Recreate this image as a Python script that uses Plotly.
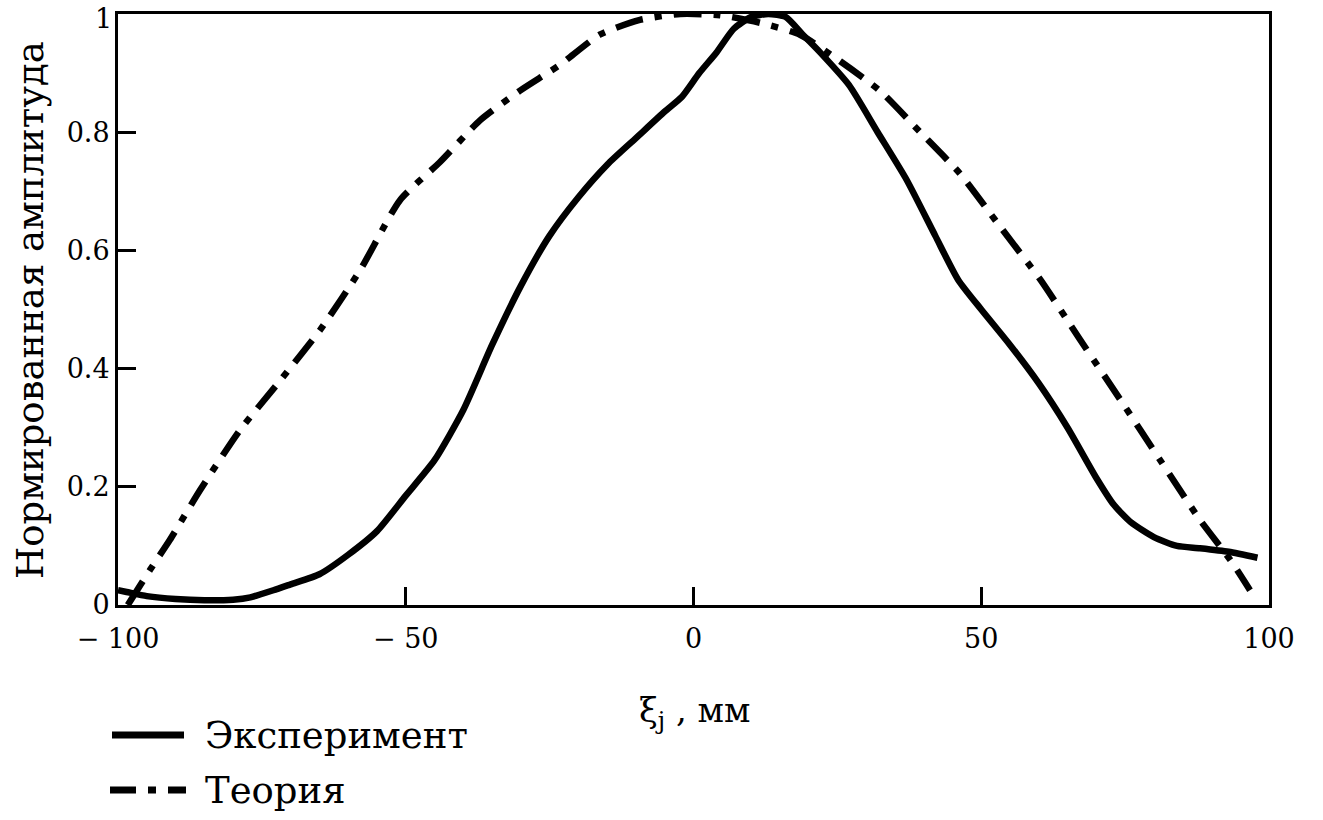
import plotly.graph_objects as go

# Experiment (solid)
exp_x = [-100, -98.5, -95, -90, -85, -80, -77, -73, -70, -65, -60, -55, -50, -45, -40, -35, -30, -25, -20,
         -15, -10, -5, -2, 1, 4, 7, 10, 13, 16, 19, 22, 27, 32, 37, 42, 46, 50, 55, 60, 65, 70, 73, 76,
         80, 84, 88, 93, 98]
exp_y = [0.025, 0.022, 0.015, 0.01, 0.008, 0.009, 0.013, 0.025, 0.035, 0.052, 0.085, 0.125, 0.185,
         0.245, 0.33, 0.44, 0.54, 0.625, 0.69, 0.745, 0.79, 0.835, 0.86, 0.9, 0.935, 0.975, 0.995, 1.0,
         0.995, 0.965, 0.935, 0.88, 0.80, 0.72, 0.625, 0.55, 0.50, 0.44, 0.375, 0.30, 0.215, 0.17, 0.14,
         0.115, 0.1, 0.096, 0.09, 0.08]

# Theory (dash-dot)
th_x = [-98.3, -94.4, -91, -85.7, -78.8, -71.8, -64.9, -57.9, -51, -44, -37.1, -30.2, -23.2, -16.3,
        -9.3, -2.3, 4.6, 11.6, 18.5, 25.5, 32.4, 39.4, 46.3, 53.3, 60.3, 67.1, 74.2, 81.1, 88, 93.3, 96.7]
th_y = [0.0, 0.06, 0.11, 0.195, 0.296, 0.38, 0.465, 0.567, 0.685, 0.75, 0.82, 0.87, 0.914, 0.965,
        0.99, 1.0, 0.998, 0.985, 0.965, 0.92, 0.87, 0.80, 0.73, 0.64, 0.55, 0.45, 0.347, 0.245, 0.144,
        0.076, 0.025]

x_ticks = [-100, -50, 0, 50, 100]
x_ticktext = ["\u2212 100", "\u2212 50", "0", "50", "100"]
y_ticks = [0, 0.2, 0.4, 0.6, 0.8]
y_ticktext = ["0", "0.2", "0.4", "0.6", "0.8"]
y_top_label = "1"

series_names = ["Эксперимент", "Теория"]
y_title = "Нормированная амплитуда"
x_title = "ξ<sub>j</sub> , мм"

FONT = "DejaVu Serif"
W, H = 1323, 820
L, R, T, B = 118, 1269, 14, 605
DASH = "28px,12px,7px,12px"

fig = go.Figure()
fig.add_trace(go.Scatter(x=exp_x, y=exp_y, mode="lines", name=series_names[0],
                         line=dict(color="black", width=6.5, shape="spline", smoothing=0.6)))
fig.add_trace(go.Scatter(x=th_x, y=th_y, mode="lines", name=series_names[1],
                         line=dict(color="black", width=6.5, dash=DASH,
                                   shape="spline", smoothing=0.6)))

def px(xp):
    return (xp - L) / (R - L)

def py(yp):
    return (B - yp) / (B - T)

# manual legend
fig.add_shape(type="line", xref="paper", yref="paper", x0=px(112), x1=px(184), y0=py(735), y1=py(735),
              line=dict(color="black", width=7))
fig.add_shape(type="line", xref="paper", yref="paper", x0=px(110), x1=px(186), y0=py(790), y1=py(790),
              line=dict(color="black", width=7, dash="26px,12px,8px,12px"))
fig.add_annotation(xref="paper", yref="paper", x=px(203), y=py(735), text=series_names[0],
                   showarrow=False, xanchor="left", yanchor="middle",
                   font=dict(family=FONT, size=37, color="black"))
fig.add_annotation(xref="paper", yref="paper", x=px(203), y=py(790), text=series_names[1],
                   showarrow=False, xanchor="left", yanchor="middle",
                   font=dict(family=FONT, size=37, color="black"))
# axis titles
fig.add_annotation(xref="paper", yref="paper", x=px(694), y=py(712), text=x_title,
                   showarrow=False, xanchor="center", yanchor="middle",
                   font=dict(family=FONT, size=34, color="black"))
fig.add_annotation(xref="paper", yref="paper", x=px(30), y=py(310), text=y_title,
                   showarrow=False, xanchor="center", yanchor="middle", textangle=-90,
                   font=dict(family=FONT, size=37, color="black"))
fig.add_annotation(xref="paper", yref="paper", x=px(114), y=py(19), text=y_top_label,
                   showarrow=False, xanchor="right", yanchor="middle",
                   font=dict(family=FONT, size=27, color="black"))

fig.update_layout(
    width=W, height=H,
    margin=dict(l=L, r=W - R, t=T, b=H - B),
    plot_bgcolor="white", paper_bgcolor="white",
    showlegend=False,
    font=dict(family=FONT, color="black"),
)
fig.update_xaxes(range=[-100, 100], tickvals=x_ticks, ticktext=x_ticktext, ticks="inside",
                 ticklen=18, tickwidth=3, tickcolor="black", showline=True, linewidth=3,
                 linecolor="black", mirror=True, showgrid=False, zeroline=False,
                 automargin=False, ticklabelstandoff=8,
                 tickfont=dict(family=FONT, size=27, color="black"))
fig.update_yaxes(range=[0, 1], tickvals=y_ticks, ticktext=y_ticktext, ticks="inside",
                 ticklen=18, tickwidth=3, tickcolor="black", showline=True, linewidth=3,
                 linecolor="black", mirror=True, showgrid=False, zeroline=False,
                 automargin=False,
                 tickfont=dict(family=FONT, size=27, color="black"))

fig.write_html("out.html")
